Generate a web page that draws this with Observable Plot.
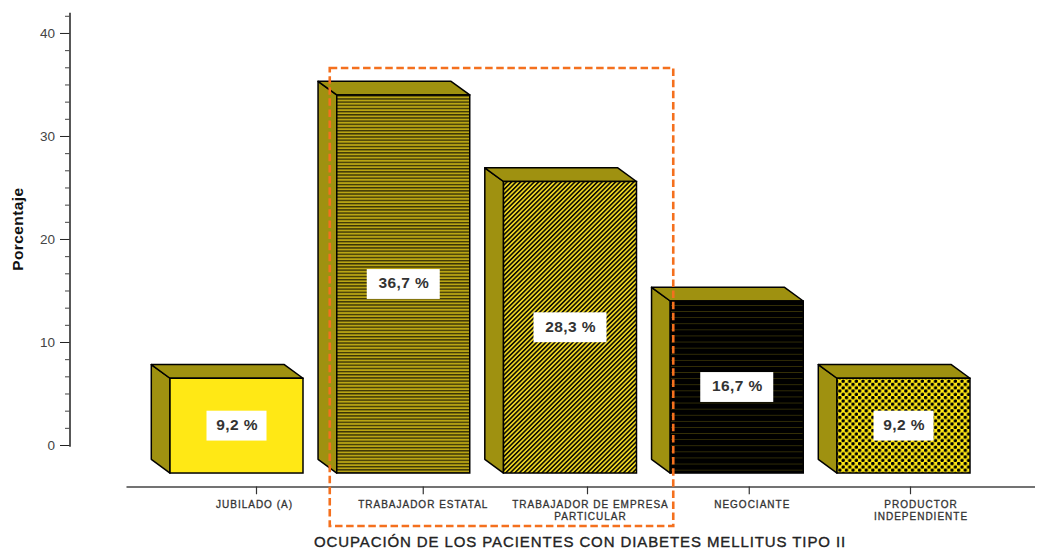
<!DOCTYPE html>
<html lang="es">
<head>
<meta charset="utf-8">
<style>
  html, body { margin: 0; padding: 0; background: #fff; }
  svg { display: block; }
</style>
<script src="https://cdn.jsdelivr.net/npm/d3@7"></script>
<script src="https://cdn.jsdelivr.net/npm/@observablehq/plot@0.6"></script>
</head>
<body>
<div id="chart"></div>
<script>
// Ocupación de los pacientes con diabetes mellitus tipo II
const categorias = [
  "JUBILADO (A)",
  "TRABAJADOR ESTATAL",
  "TRABAJADOR DE EMPRESA\nPARTICULAR",
  "NEGOCIANTE",
  "PRODUCTOR\nINDEPENDIENTE"
];
const porcentajes = [9.2, 36.7, 28.3, 16.7, 9.2];
const etiquetas = ["9,2 %", "36,7 %", "28,3 %", "16,7 %", "9,2 %"];
const tramas = ["solido", "lineas", "diagonal", "negro", "rombos"];

const filas = categorias.map((categoria, i) => ({
  categoria, valor: porcentajes[i], etiqueta: etiquetas[i], trama: tramas[i]
}));

const tituloX = "OCUPACIÓN DE LOS PACIENTES CON DIABETES MELLITUS TIPO II";
const tituloY = "Porcentaje";

// Bars stand on a floor below the zero of the axis
const suelo = -2.72;
const ejeX = -4.03;
const fuente = "'Liberation Sans', Arial, sans-serif";
const oliva = "#9f9110";
const fondo = {x: 18.7, y: 13.7};

// Offsets of each tick and label relative to the centre of its bar
const desvioMarca = [19.5, 19.5, 17, 12, 6.5];
const desvioTexto = [17.5, 19.5, 20, 15, 17];

const mayores = d3.range(0, 41, 10);
const menores = d3.range(0, 26).map(k => k * 10 / 6).filter(v => !mayores.some(m => Math.abs(m - v) < 1e-6));

// Side and top faces of each block, placed with the chart's scales
function caras(index, {x, y}) {
  const g = d3.create("svg:g").attr("stroke", "#000").attr("stroke-width", 1.5).attr("stroke-linejoin", "round").attr("fill", oliva);
  for (const f of filas) {
    const x0 = x(f.categoria), x1 = x0 + x.bandwidth();
    const y0 = y(suelo), y1 = y(suelo + f.valor);
    g.append("polygon").attr("points", [[x0, y1], [x0 - fondo.x, y1 - fondo.y], [x0 - fondo.x, y0 - fondo.y], [x0, y0]].join(" "));
    g.append("polygon").attr("points", [[x0, y1], [x0 - fondo.x, y1 - fondo.y], [x1 - fondo.x, y1 - fondo.y], [x1, y1]].join(" "));
  }
  return g.node();
}

// Dashed highlight around the two largest groups
function recuadro(index, {x, y}) {
  const a = x(categorias[1]) - 7, b = x(categorias[3]) + 3;
  return d3.create("svg:rect")
    .attr("x", a).attr("width", b - a)
    .attr("y", y(36.6)).attr("height", y(-7.86) - y(36.6))
    .attr("fill", "none").attr("stroke", "#f4701e").attr("stroke-width", 2.6)
    .attr("stroke-dasharray", "7.5 3.6")
    .node();
}

const marcasX = categorias.map((c, i) =>
  Plot.ruleX([c], {x: d => d, y1: ejeX, y2: ejeX - 0.75, stroke: "#333", strokeWidth: 1.2, dx: desvioMarca[i]}));
const textosX = categorias.map((c, i) =>
  Plot.text([c], {
    x: d => d, y: -5.24, dx: desvioTexto[i], text: d => d, lineAnchor: "top",
    fontSize: 10, fill: "#333", stroke: "#333", strokeWidth: 0.3, fontFamily: fuente, lineHeight: 1.2,
    textAnchor: "middle"
  }));
const cajas = filas.map(f => {
  const margen = f.etiqueta.length > 5 ? 30 : 36.5;
  return Plot.barY([f], {
    x: "categoria",
    y1: d => suelo + d.valor / 2 - 1.45,
    y2: d => suelo + d.valor / 2 + 1.45,
    fill: "#fff",
    insetLeft: margen,
    insetRight: margen
  });
});

const grafico = Plot.plot({
  width: 1039,
  height: 551,
  marginTop: 13,
  marginLeft: 69.5,
  marginRight: 0,
  marginBottom: 105.5,
  style: {fontFamily: fuente, background: "#fff"},
  x: {type: "band", domain: categorias, range: [136.25, 1003.75], padding: 0.2024, round: false, axis: null},
  y: {domain: [-10.29, 43.2], range: [551, 0], axis: null},
  marks: [
    Plot.frame({anchor: "left", stroke: "#111", strokeWidth: 1.4}),
    Plot.axisY({anchor: "left", ticks: menores, tickSize: 4.5, stroke: "#444", label: null, tickFormat: () => ""}),
    Plot.axisY({
      anchor: "left", ticks: mayores, tickSize: 9.5, tickPadding: 5.5, label: null, stroke: "#222",
      fontSize: 13.5, tickFormat: d => d, fill: "#444"
    }),
    Plot.ruleY([ejeX], {insetLeft: 57, insetRight: 4, stroke: "#444", strokeWidth: 1.4}),
    ...marcasX,
    ...textosX,
    caras,
    Plot.barY(filas, {
      x: "categoria",
      y1: suelo,
      y2: d => suelo + d.valor,
      fill: {value: d => `url(#${d.trama})`, scale: null},
      stroke: "#000",
      strokeWidth: 1.5
    }),
    ...cajas,
    Plot.text(filas, {
      x: "categoria",
      y: d => suelo + d.valor / 2,
      dy: -1,
      text: "etiqueta",
      fontSize: 15.5,
      fontWeight: "bold",
      fill: "#333",
      fontFamily: fuente
    }),
    Plot.text([tituloY], {
      y: 21, frameAnchor: "left", dx: -51.5, rotate: -90, text: d => d, textAnchor: "middle",
      fontSize: 15.5, fontWeight: "bold", fill: "#111", fontFamily: fuente
    }),
    Plot.text([tituloX], {
      y: -9.37, frameAnchor: "left", dx: 510, text: d => d, textAnchor: "middle",
      fontSize: 15, fill: "#222", stroke: "#222", strokeWidth: 0.35, fontFamily: fuente
    }),
    recuadro
  ]
});

// Letter spacing of the texts, which the text mark has no option for
const espaciado = new Map([
  ...categorias.map(c => [c, 1]),
  ...etiquetas.map(e => [e, 0.4]),
  [tituloX, 0.9],
  [tituloY, 0.4]
]);
d3.select(grafico).selectAll("text").each(function() {
  const cadena = [...espaciado.keys()].find(k => k.replace("\n", "") === this.textContent);
  if (cadena) this.style.letterSpacing = espaciado.get(cadena) + "px";
});

// Fill textures of the bars
const defs = d3.select(grafico).insert("defs", ":first-child");
function trama(id, w, h, pintar, transformar) {
  const p = defs.append("pattern").attr("id", id).attr("patternUnits", "userSpaceOnUse").attr("width", w).attr("height", h);
  if (transformar) p.attr("patternTransform", transformar);
  pintar(p);
}
trama("solido", 4, 4, p => p.append("rect").attr("width", 4).attr("height", 4).attr("fill", "#ffe815"));
trama("lineas", 4, 3.17, p => {
  p.append("rect").attr("width", 4).attr("height", 3.17).attr("fill", "#b9a514");
  p.append("rect").attr("width", 4).attr("height", 1.35).attr("fill", "#3a3406");
});
trama("diagonal", 3.2, 3.2, p => {
  p.append("rect").attr("width", 3.2).attr("height", 3.2).attr("fill", "#ecd422");
  p.append("rect").attr("width", 1.55).attr("height", 3.2).attr("fill", "#0d0c02");
}, "rotate(45)");
trama("negro", 4, 6.1, p => {
  p.append("rect").attr("width", 4).attr("height", 6.1).attr("fill", "#000");
  p.append("rect").attr("width", 4).attr("height", 0.8).attr("fill", "#3b3507");
});
trama("rombos", 6.6, 6.6, p => {
  p.append("rect").attr("width", 6.6).attr("height", 6.6).attr("fill", "#ffe815");
  p.append("circle").attr("cx", 1.65).attr("cy", 1.65).attr("r", 1.75).attr("fill", "#000");
  p.append("circle").attr("cx", 4.95).attr("cy", 4.95).attr("r", 1.75).attr("fill", "#000");
});

document.getElementById("chart").append(grafico);
</script>
</body>
</html>
